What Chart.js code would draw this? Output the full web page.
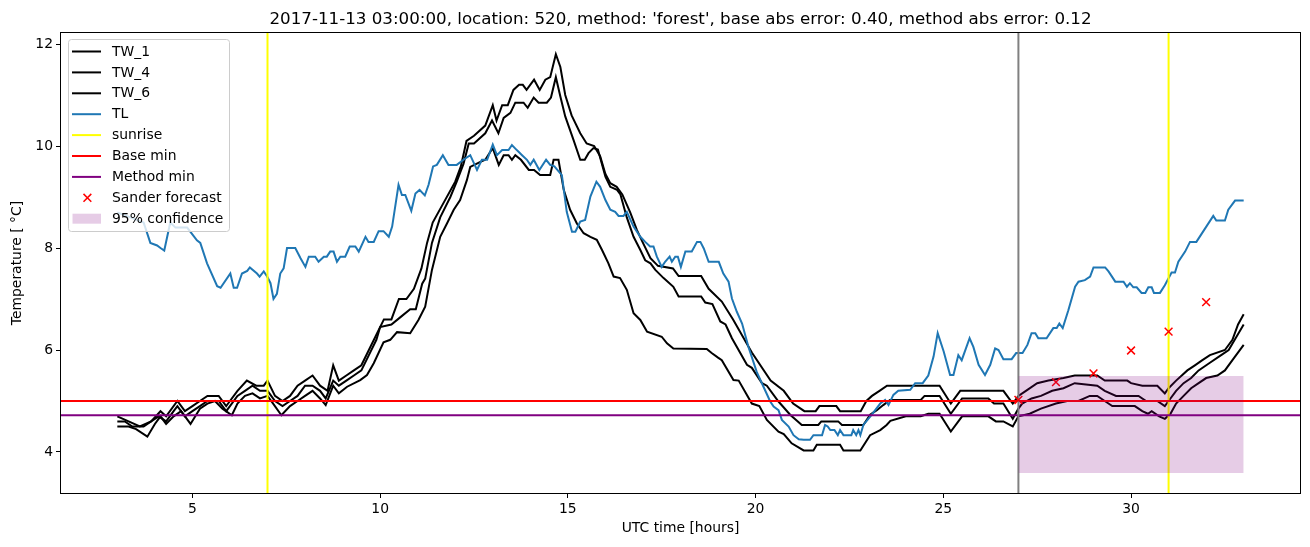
<!DOCTYPE html>
<html>
<head>
<meta charset="utf-8">
<script src="https://cdn.jsdelivr.net/npm/chart.js@4.4.1/dist/chart.umd.min.js"></script>
<style>
  html, body { margin: 0; padding: 0; background: #fff; }
</style>
</head>
<body>
<canvas id="tempChart" width="1310" height="547"></canvas>
<script>
// ---- data: [hour, temperature] ----
const tw1 = [[3.0,4.7],[3.3,4.6],[3.6,4.5],[3.9,4.6],[4.15,4.8],[4.3,4.7],[4.6,5.0],[4.8,4.8],[5.0,4.9],[5.2,5.0],[5.4,5.1],[5.7,5.1],[5.9,4.9],[6.0,5.0],[6.2,5.2],[6.45,5.4],[6.7,5.3],[6.9,5.3],[7.0,5.4],[7.2,5.1],[7.4,5.0],[7.6,5.1],[7.8,5.3],[8.0,5.4],[8.2,5.5],[8.4,5.3],[8.6,5.2],[8.75,5.7],[8.9,5.4],[9.1,5.5],[9.3,5.6],[9.5,5.7],[9.7,6.0],[9.9,6.3],[10.1,6.6],[10.3,6.6],[10.5,7.0],[10.7,7.0],[10.9,7.2],[11.1,7.6],[11.25,8.1],[11.4,8.5],[11.7,8.9],[12.0,9.3],[12.15,9.6],[12.3,10.1],[12.5,10.2],[12.8,10.4],[13.0,10.8],[13.1,10.5],[13.25,10.8],[13.4,10.8],[13.55,11.1],[13.7,11.2],[13.8,11.2],[13.9,11.1],[14.1,11.3],[14.25,11.1],[14.4,11.3],[14.53,11.35],[14.68,11.8],[14.8,11.55],[14.93,11.0],[15.1,10.6],[15.33,10.25],[15.5,10.05],[15.7,10.0],[15.86,9.8],[16.0,9.45],[16.13,9.27],[16.3,9.2],[16.45,9.05],[16.66,8.7],[16.84,8.35],[17.0,8.1],[17.2,7.8],[17.4,7.65],[17.8,7.6],[17.95,7.45],[18.55,7.45],[18.75,7.2],[19.1,6.95],[19.4,6.6],[19.9,5.95],[20.4,5.4],[20.75,5.2],[21.0,4.95],[21.3,4.8],[21.6,4.8],[21.7,4.9],[22.15,4.9],[22.25,4.8],[22.8,4.8],[22.95,5.0],[23.1,5.1],[23.3,5.2],[23.5,5.3],[24.5,5.3],[24.9,5.3],[25.2,4.95],[25.45,5.2],[26.2,5.2],[26.6,5.2],[26.85,4.95],[27.0,5.1],[27.2,5.2],[27.5,5.35],[27.8,5.4],[28.2,5.45],[28.5,5.5],[29.1,5.5],[29.3,5.4],[29.9,5.4],[30.0,5.35],[30.3,5.3],[30.7,5.3],[30.9,5.15],[31.0,5.25],[31.2,5.4],[31.5,5.6],[31.7,5.7],[31.9,5.8],[32.1,5.9],[32.5,6.0],[32.7,6.2],[32.85,6.5],[33.0,6.7]];
const tw4 = [[3.0,4.6],[3.2,4.6],[3.4,4.5],[3.7,4.5],[3.9,4.6],[4.1,4.7],[4.3,4.6],[4.5,4.8],[4.6,4.9],[4.8,4.7],[5.0,4.8],[5.2,4.9],[5.4,5.0],[5.7,5.0],[5.9,4.8],[6.0,4.9],[6.2,5.1],[6.4,5.2],[6.6,5.3],[6.8,5.2],[7.0,5.2],[7.2,5.0],[7.4,4.9],[7.6,5.0],[7.8,5.1],[8.0,5.3],[8.2,5.3],[8.4,5.2],[8.55,5.05],[8.75,5.4],[8.9,5.3],[9.1,5.4],[9.3,5.5],[9.5,5.6],[9.7,5.9],[9.9,6.2],[10.0,6.45],[10.3,6.5],[10.55,6.65],[10.8,6.8],[10.95,6.8],[11.12,7.3],[11.2,7.4],[11.38,8.1],[11.6,8.6],[11.87,9.0],[12.04,9.3],[12.22,9.65],[12.36,10.05],[12.5,10.05],[12.8,10.25],[12.98,10.5],[13.15,10.25],[13.29,10.55],[13.47,10.65],[13.6,10.85],[13.82,10.85],[13.93,10.75],[14.09,10.95],[14.22,10.85],[14.44,10.85],[14.55,10.95],[14.68,11.35],[14.8,10.97],[14.93,10.58],[15.15,10.12],[15.33,9.73],[15.45,9.73],[15.55,9.86],[15.68,9.96],[15.8,9.93],[16.0,9.4],[16.13,9.2],[16.31,9.14],[16.4,9.05],[16.57,8.6],[16.75,8.22],[16.93,7.96],[17.06,7.76],[17.2,7.7],[17.33,7.57],[17.55,7.41],[17.81,7.24],[17.95,7.05],[18.55,7.05],[18.66,6.93],[18.85,6.9],[19.06,6.56],[19.2,6.5],[19.37,6.23],[19.77,5.71],[19.9,5.65],[20.17,5.35],[20.3,5.3],[20.61,4.99],[20.92,4.73],[21.23,4.53],[21.67,4.53],[21.75,4.6],[22.2,4.6],[22.3,4.53],[22.87,4.53],[23.05,4.73],[23.23,4.82],[23.4,4.92],[23.58,5.02],[24.4,5.02],[24.5,5.1],[24.9,5.1],[25.2,4.75],[25.5,5.05],[26.2,5.05],[26.35,4.95],[26.6,4.95],[26.85,4.65],[27.0,4.85],[27.1,4.95],[27.35,5.05],[27.6,5.1],[27.9,5.2],[28.2,5.25],[28.5,5.35],[29.1,5.3],[29.3,5.2],[29.6,5.1],[30.2,5.1],[30.4,5.0],[30.7,5.0],[30.9,4.9],[31.0,5.0],[31.2,5.2],[31.4,5.35],[31.6,5.45],[31.8,5.6],[32.1,5.75],[32.4,5.9],[32.6,6.0],[32.8,6.25],[33.0,6.5]];
const tw6 = [[3.0,4.5],[3.3,4.5],[3.5,4.45],[3.8,4.3],[4.0,4.55],[4.15,4.7],[4.3,4.55],[4.5,4.7],[4.7,4.8],[4.95,4.55],[5.2,4.85],[5.4,4.95],[5.6,5.0],[5.8,4.85],[6.05,4.72],[6.2,4.95],[6.4,5.1],[6.6,5.15],[6.8,5.05],[7.0,5.1],[7.15,4.95],[7.37,4.72],[7.6,4.9],[7.8,5.0],[8.0,5.1],[8.2,5.2],[8.4,5.05],[8.55,4.92],[8.75,5.3],[8.9,5.15],[9.12,5.28],[9.47,5.41],[9.65,5.51],[9.83,5.74],[10.09,6.15],[10.27,6.2],[10.45,6.35],[10.8,6.33],[11.02,6.59],[11.2,6.85],[11.38,7.57],[11.6,8.22],[11.78,8.48],[11.96,8.75],[12.13,8.94],[12.31,9.33],[12.4,9.59],[12.67,9.69],[12.8,9.73],[13.0,9.96],[13.16,9.63],[13.29,9.82],[13.42,9.82],[13.51,9.73],[13.6,9.82],[13.75,9.73],[13.96,9.53],[14.1,9.53],[14.26,9.43],[14.53,9.43],[14.62,9.73],[14.75,9.73],[14.89,9.14],[15.06,8.75],[15.24,8.48],[15.42,8.29],[15.6,8.22],[15.77,8.16],[15.91,7.96],[16.08,7.7],[16.22,7.44],[16.39,7.41],[16.57,7.18],[16.75,6.72],[16.93,6.59],[17.11,6.36],[17.5,6.26],[17.64,6.13],[17.81,6.03],[18.7,6.02],[18.83,5.94],[19.0,5.85],[19.1,5.8],[19.41,5.41],[19.55,5.4],[19.9,4.95],[20.1,4.9],[20.3,4.63],[20.61,4.4],[20.75,4.35],[20.96,4.17],[21.28,4.03],[21.54,4.03],[21.63,4.14],[22.25,4.14],[22.34,4.03],[22.79,4.03],[23.05,4.33],[23.32,4.43],[23.49,4.53],[23.59,4.61],[24.0,4.7],[24.4,4.7],[24.6,4.75],[24.9,4.75],[25.2,4.4],[25.5,4.7],[26.2,4.7],[26.4,4.6],[26.6,4.6],[26.85,4.5],[27.0,4.7],[27.3,4.75],[27.6,4.85],[28.0,4.95],[28.3,5.0],[28.6,5.0],[28.9,5.1],[29.1,5.1],[29.3,5.0],[29.5,4.9],[30.1,4.9],[30.3,4.8],[30.45,4.75],[30.55,4.8],[30.75,4.7],[30.9,4.65],[31.05,4.75],[31.2,4.95],[31.4,5.1],[31.6,5.25],[31.8,5.35],[32.0,5.45],[32.3,5.5],[32.5,5.6],[32.7,5.8],[33.0,6.1]];
const tl = [[3.0,8.7],[3.35,8.6],[3.7,8.5],[3.88,8.1],[4.06,8.05],[4.15,8.0],[4.25,7.95],[4.41,8.5],[4.55,8.4],[4.86,8.4],[5.12,8.15],[5.21,8.1],[5.39,7.7],[5.66,7.25],[5.75,7.22],[6.01,7.5],[6.1,7.22],[6.19,7.22],[6.32,7.5],[6.46,7.55],[6.53,7.62],[6.72,7.5],[6.79,7.44],[6.9,7.54],[6.99,7.44],[7.08,7.31],[7.16,7.0],[7.25,7.1],[7.34,7.5],[7.43,7.6],[7.52,8.0],[7.74,8.0],[7.88,7.8],[8.01,7.63],[8.1,7.83],[8.27,7.83],[8.36,7.73],[8.5,7.83],[8.58,7.83],[8.67,7.93],[8.76,7.93],[8.85,7.73],[8.94,7.83],[9.07,7.83],[9.19,8.03],[9.34,8.03],[9.43,7.93],[9.61,8.22],[9.69,8.12],[9.83,8.12],[9.96,8.33],[10.09,8.33],[10.23,8.22],[10.32,8.42],[10.49,9.24],[10.58,9.04],[10.67,9.04],[10.83,8.73],[10.94,9.07],[11.05,9.14],[11.19,9.03],[11.29,9.24],[11.41,9.6],[11.51,9.63],[11.67,9.82],[11.82,9.63],[12.04,9.63],[12.22,9.73],[12.4,9.82],[12.58,9.53],[12.71,9.73],[12.85,9.73],[13.0,10.03],[13.11,9.82],[13.25,9.92],[13.42,9.92],[13.51,10.02],[13.64,9.92],[13.78,9.82],[13.91,9.73],[14.0,9.63],[14.09,9.73],[14.24,9.53],[14.42,9.73],[14.53,9.63],[14.64,9.6],[14.84,9.43],[14.97,8.71],[15.11,8.32],[15.2,8.32],[15.33,8.52],[15.46,8.55],[15.6,9.01],[15.76,9.3],[15.86,9.2],[16.0,8.94],[16.13,8.75],[16.26,8.71],[16.35,8.63],[16.48,8.63],[16.57,8.71],[16.75,8.42],[16.93,8.22],[17.06,8.12],[17.19,8.03],[17.28,8.03],[17.37,7.83],[17.5,7.63],[17.59,7.73],[17.71,7.83],[17.77,7.73],[17.86,7.83],[17.93,7.83],[18.01,7.63],[18.13,7.93],[18.3,7.93],[18.44,8.12],[18.53,8.12],[18.62,7.99],[18.75,7.73],[19.02,7.73],[19.14,7.5],[19.28,7.34],[19.37,7.01],[19.5,6.75],[19.64,6.52],[19.81,6.06],[20.03,5.57],[20.21,5.28],[20.39,4.99],[20.48,4.89],[20.61,4.82],[20.7,4.63],[20.88,4.5],[21.01,4.33],[21.15,4.25],[21.28,4.24],[21.45,4.24],[21.54,4.33],[21.77,4.33],[21.85,4.53],[21.92,4.5],[21.99,4.43],[22.1,4.43],[22.19,4.33],[22.25,4.43],[22.34,4.33],[22.55,4.33],[22.6,4.43],[22.68,4.33],[22.74,4.43],[22.79,4.33],[22.87,4.53],[23.09,4.73],[23.32,4.95],[23.45,5.02],[23.54,4.92],[23.67,5.12],[23.8,5.2],[24.12,5.22],[24.25,5.35],[24.45,5.35],[24.6,5.5],[24.74,5.87],[24.85,6.33],[25.01,5.97],[25.18,5.51],[25.27,5.51],[25.4,5.9],[25.49,5.8],[25.7,6.23],[25.8,6.06],[25.94,5.71],[26.11,5.51],[26.25,5.71],[26.38,6.03],[26.47,6.0],[26.6,5.82],[26.82,5.82],[26.94,5.94],[27.11,5.94],[27.24,6.1],[27.35,6.33],[27.45,6.33],[27.53,6.23],[27.75,6.23],[27.93,6.43],[28.02,6.43],[28.09,6.52],[28.18,6.43],[28.33,6.78],[28.51,7.24],[28.6,7.34],[28.77,7.37],[28.91,7.44],[29.0,7.62],[29.31,7.62],[29.4,7.54],[29.58,7.34],[29.8,7.34],[29.89,7.24],[29.97,7.31],[30.06,7.23],[30.15,7.23],[30.28,7.12],[30.38,7.12],[30.46,7.23],[30.55,7.23],[30.61,7.12],[30.77,7.12],[30.9,7.27],[31.08,7.52],[31.17,7.52],[31.26,7.73],[31.44,7.93],[31.57,8.12],[31.74,8.12],[32.19,8.63],[32.27,8.54],[32.5,8.54],[32.59,8.75],[32.77,8.93],[33.0,8.93]];

const sunriseHours = [7, 31];
const forecastStart = 27;
const baseMin = 5.0;
const methodMin = 4.72;
const forecastHours = [27, 28, 29, 30, 31, 32];
const forecastTemps = [5.02, 5.37, 5.54, 5.99, 6.36, 6.94];
const confHours = [27, 33];
const confLow = 3.59;
const confHigh = 5.49;

const xTicks = [5, 10, 15, 20, 25, 30];
const yTicks = [4, 6, 8, 10, 12];
const xMin = 1.5, xMax = 34.5, yMin = 3.196, yMax = 12.216;

const titleText = "2017-11-13 03:00:00, location: 520, method: 'forest', base abs error: 0.40, method abs error: 0.12";

const FONT = '"DejaVu Sans", sans-serif';
const toPts = arr => arr.map(([x, y]) => ({ x, y }));

function lineSet(label, pts, color, order) {
  return { label, data: pts, borderColor: color, backgroundColor: color, borderWidth: 2,
           pointRadius: 0, tension: 0, fill: false, order };
}

const datasets = [
  lineSet('TW_1', toPts(tw1), '#000000', 20),
  lineSet('TW_4', toPts(tw4), '#000000', 19),
  lineSet('TW_6', toPts(tw6), '#000000', 18),
  lineSet('TL', toPts(tl), '#1f77b4', 17),
];
sunriseHours.forEach((h, i) => {
  datasets.push(lineSet(i === 0 ? 'sunrise' : '', [{ x: h, y: yMin }, { x: h, y: yMax }], '#ffff00', 16));
});
datasets.push(lineSet('Base min', [{ x: xMin, y: baseMin }, { x: xMax, y: baseMin }], '#ff0000', 15));
datasets.push(lineSet('Method min', [{ x: xMin, y: methodMin }, { x: xMax, y: methodMin }], '#800080', 14));
datasets.push(lineSet('', [{ x: forecastStart, y: yMin }, { x: forecastStart, y: yMax }], '#808080', 13));
datasets.push({
  label: 'Sander forecast',
  data: forecastHours.map((h, i) => ({ x: h, y: forecastTemps[i] })),
  showLine: false, pointStyle: 'crossRot', pointRadius: 5.5, borderWidth: 1.5,
  borderColor: '#ff0000', backgroundColor: '#ff0000', order: 12
});
datasets.push({
  label: '95% confidence',
  data: confHours.map(h => ({ x: h, y: confHigh })),
  borderWidth: 0, pointRadius: 0, tension: 0,
  fill: { value: confLow }, backgroundColor: 'rgba(128,0,128,0.2)', order: 11
});

// matplotlib-style legend entries
const legendItems = [
  { text: 'TW_1', kind: 'line', color: '#000000' },
  { text: 'TW_4', kind: 'line', color: '#000000' },
  { text: 'TW_6', kind: 'line', color: '#000000' },
  { text: 'TL', kind: 'line', color: '#1f77b4' },
  { text: 'sunrise', kind: 'line', color: '#ffff00' },
  { text: 'Base min', kind: 'line', color: '#ff0000' },
  { text: 'Method min', kind: 'line', color: '#800080' },
  { text: 'Sander forecast', kind: 'cross', color: '#ff0000' },
  { text: '95% confidence', kind: 'patch', color: 'rgba(128,0,128,0.2)' }
];

const overlay = {
  id: 'overlay',
  afterDraw(chart) {
    const { ctx, chartArea: a } = chart;
    ctx.save();

    // frame
    ctx.strokeStyle = '#000';
    ctx.lineWidth = 1;
    ctx.strokeRect(Math.round(a.left) - 0.5, Math.round(a.top) - 0.5,
                   Math.round(a.right - a.left) + 1, Math.round(a.bottom - a.top) + 1);

    // title
    ctx.fillStyle = '#000';
    ctx.font = '16.7px ' + FONT;
    ctx.textAlign = 'center';
    ctx.textBaseline = 'alphabetic';
    ctx.fillText(titleText, (a.left + a.right) / 2, 24);

    // legend box
    const bx = 68.5, by = 39.5, bw = 161, bh = 192, r = 3;
    ctx.beginPath();
    ctx.moveTo(bx + r, by);
    ctx.arcTo(bx + bw, by, bx + bw, by + bh, r);
    ctx.arcTo(bx + bw, by + bh, bx, by + bh, r);
    ctx.arcTo(bx, by + bh, bx, by, r);
    ctx.arcTo(bx, by, bx + bw, by, r);
    ctx.closePath();
    ctx.fillStyle = 'rgba(255,255,255,0.8)';
    ctx.fill();
    ctx.strokeStyle = '#cccccc';
    ctx.stroke();

    ctx.font = '13.9px ' + FONT;
    ctx.textAlign = 'left';
    ctx.textBaseline = 'middle';
    legendItems.forEach((it, i) => {
      const cy = 51.5 + i * 20.9;
      if (it.kind === 'line') {
        ctx.strokeStyle = it.color;
        ctx.lineWidth = 2;
        ctx.beginPath();
        ctx.moveTo(72, cy);
        ctx.lineTo(101, cy);
        ctx.stroke();
      } else if (it.kind === 'cross') {
        ctx.strokeStyle = it.color;
        ctx.lineWidth = 1.5;
        ctx.beginPath();
        ctx.moveTo(83.5, cy - 3.9); ctx.lineTo(91.3, cy + 3.9);
        ctx.moveTo(91.3, cy - 3.9); ctx.lineTo(83.5, cy + 3.9);
        ctx.stroke();
      } else {
        ctx.fillStyle = it.color;
        ctx.fillRect(72.5, cy - 5, 28.5, 10);
      }
      ctx.fillStyle = '#000';
      ctx.fillText(it.text, 112, cy + 0.5);
    });
    ctx.restore();
  }
};

new Chart(document.getElementById('tempChart'), {
  type: 'line',
  data: { datasets },
  options: {
    responsive: false,
    animation: false,
    events: [],
    layout: { padding: { left: 0, top: 33, right: 10, bottom: 0 } },
    plugins: { legend: { display: false }, tooltip: { enabled: false }, title: { display: false } },
    scales: {
      x: {
        type: 'linear', min: xMin, max: xMax,
        afterFit: s => { s.height = 54; },
        afterBuildTicks: s => { s.ticks = xTicks.map(v => ({ value: v })); },
        border: { display: false },
        grid: { drawOnChartArea: false, drawTicks: true, tickLength: 5, color: '#000', lineWidth: 1 },
        ticks: { color: '#000', font: { family: FONT, size: 13.9 }, padding: 3, maxRotation: 0 },
        title: { display: true, text: 'UTC time [hours]', color: '#000',
                 font: { family: FONT, size: 13.9 }, padding: { top: 0, bottom: 10 } }
      },
      y: {
        type: 'linear', min: yMin, max: yMax,
        afterFit: s => { s.width = 61; },
        afterBuildTicks: s => { s.ticks = yTicks.map(v => ({ value: v })); },
        border: { display: false },
        grid: { drawOnChartArea: false, drawTicks: true, tickLength: 5, color: '#000', lineWidth: 1 },
        ticks: { color: '#000', font: { family: FONT, size: 13.9 }, padding: 3 },
        title: { display: true, text: 'Temperature [ °C]', color: '#000',
                 font: { family: FONT, size: 13.9 }, padding: { top: 9, bottom: 0 } }
      }
    }
  },
  plugins: [overlay]
});
</script>
</body>
</html>
